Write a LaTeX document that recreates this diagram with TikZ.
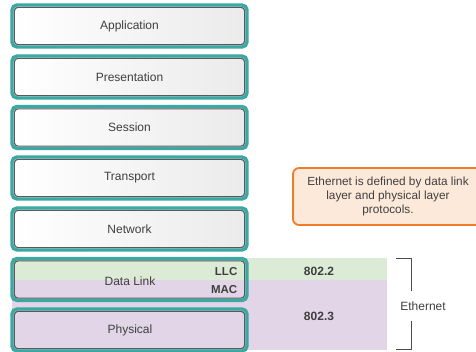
\documentclass[tikz,border=0pt]{standalone}
\usepackage{fontspec}
\setmainfont{Liberation Sans}
\definecolor{layerteal}{HTML}{3AA8A3}
\definecolor{layerrim}{HTML}{555A5C}
\definecolor{llcgreen}{HTML}{DCEBD6}
\definecolor{macpurple}{HTML}{E1D5E7}
\definecolor{calloutfill}{HTML}{FDE9DA}
\definecolor{calloutedge}{HTML}{F07C28}
\definecolor{txt}{HTML}{3F3F3F}
\begin{document}
\begin{tikzpicture}[x=1pt,y=-1pt,
  font=\fontsize{12}{14}\selectfont, text=txt,
  layer/.style={draw=layerteal, line width=3.4pt, rounded corners=5pt,
    minimum width=235pt, minimum height=42pt, outer sep=0pt, inner sep=0pt},
  shadedlayer/.style={layer, left color=white, right color=gray!16},
  rim/.style={draw=layerrim, line width=1.1pt, rounded corners=3.5pt},
  sublabel/.style={font=\fontsize{11.5}{13}\selectfont\bfseries, anchor=east, inner sep=0pt},
  stdlabel/.style={font=\fontsize{12}{14}\selectfont\bfseries, inner sep=0pt},
  bracketline/.style={draw=gray!60!black, line width=1pt}]
\useasboundingbox (0,0) rectangle (476,352);

% coloured bands behind the two lower layers
\fill[llcgreen] (12,258) rectangle (387,280);
\fill[macpurple] (12,280) rectangle (387,350);

% OSI layer boxes
\foreach \nm/\lbl/\yc in {app/Application/26, pres/Presentation/77,
    sess/Session/127.5, trans/Transport/178, net/Network/229}{
  \node[shadedlayer] (\nm) at (129.5,\yc) {\lbl};
  \draw[rim] ([shift={(2.4pt,-2.4pt)}]\nm.north west) rectangle ([shift={(-2.4pt,2.4pt)}]\nm.south east);
}
\foreach \nm/\yc in {dl/279.5, phy/330}{
  \node[layer] (\nm) at (129.5,\yc) {};
  \draw[rim] ([shift={(2.4pt,-2.4pt)}]\nm.north west) rectangle ([shift={(-2.4pt,2.4pt)}]\nm.south east);
}

\node (dltext) at (130,281) {Data Link};
\node (phytext) at (130,330) {Physical};
\node[sublabel] (llc) at (237.5,271.5) {LLC};
\node[sublabel] (mac) at (237.5,290) {MAC};

% IEEE standards
\node[stdlabel] (s8022) at (319,271.5) {802.2};
\node[stdlabel] (s8023) at (319,316) {802.3};

% Ethernet bracket
\coordinate (bt) at (396,258.5);
\coordinate (btc) at (411.5,258.5);
\coordinate (btm) at (411.5,291);
\coordinate (bbm) at (411.5,321);
\coordinate (bbc) at (411.5,349.5);
\coordinate (bb) at (396,349.5);
\draw[bracketline] (bt) -- (btc) -- (btm);
\draw[bracketline] (bbm) -- (bbc) -- (bb);
\node (eth) at (423,306) {Ethernet};

% callout
\node[draw=calloutedge, fill=calloutfill, line width=1.8pt, rounded corners=6pt,
  minimum width=190pt, minimum height=57pt, align=center, inner sep=0pt,
  font=\fontsize{11.8}{14}\selectfont] (note) at (388,196.5)
  {Ethernet is defined by data link\\layer and physical layer\\protocols.};
\end{tikzpicture}
\end{document}
